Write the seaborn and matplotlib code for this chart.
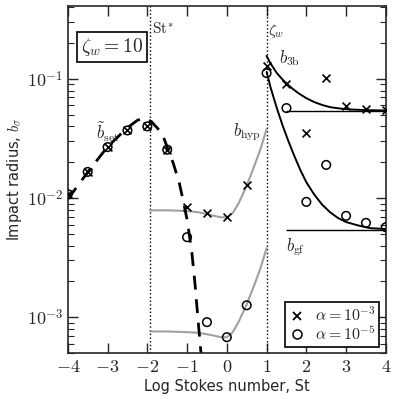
import numpy as np
import pandas as pd
import matplotlib
matplotlib.use("Agg")
import matplotlib.pyplot as plt
from matplotlib.lines import Line2D
from matplotlib.ticker import FuncFormatter
import seaborn as sns

# marker data (x = log10 St)
st_cross = [-4.0, -3.5, -3.0, -2.5, -2.0, -1.5, -1.0, -0.5, 0.0, 0.5,
            1.0, 1.5, 2.0, 2.5, 3.0, 3.5, 4.0]
b_cross = [0.0108, 0.0166, 0.0268, 0.037, 0.040, 0.0255, 0.0084, 0.0075, 0.0069, 0.0129,
           0.129, 0.091, 0.035, 0.102, 0.059, 0.0556, 0.055]
st_circle = [-4.0, -3.5, -3.0, -2.5, -2.0, -1.5, -1.0, -0.5, 0.0, 0.5,
             1.0, 1.5, 2.0, 2.5, 3.0, 3.5, 4.0]
b_circle = [0.0108, 0.0166, 0.0268, 0.037, 0.040, 0.0255, 0.0047, 0.00091, 0.00068, 0.00126,
            0.112, 0.057, 0.0093, 0.019, 0.0071, 0.0062, 0.0057]

# model curves
set_x = [-4.0, -3.5, -3.0, -2.5, -2.25, -2.1, -1.9, -1.63, -1.35, -1.2, -1.1, -1.0,
         -0.88, -0.8, -0.73, -0.65]
set_y = [0.0098, 0.0165, 0.027, 0.039, 0.045, 0.047, 0.044, 0.035, 0.0197, 0.0136, 0.0096, 0.0066,
         0.0035, 0.0019, 0.0010, 0.0005]

hyp3_x = [-1.93, -1.5, -1.0, -0.7, -0.4, -0.15, 0.0, 0.15, 0.3, 0.5, 0.7, 0.85, 1.0]
hyp3_y = [0.0079, 0.0079, 0.0078, 0.0076, 0.0072, 0.0069, 0.0069, 0.0075, 0.0091, 0.0127, 0.019, 0.026, 0.038]
hyp5_x = [-1.93, -1.5, -1.0, -0.7, -0.4, -0.15, 0.0, 0.15, 0.3, 0.5, 0.7, 0.85, 1.0]
hyp5_y = [0.00076, 0.00076, 0.00075, 0.00074, 0.00071, 0.00068, 0.00068, 0.00075, 0.00092, 0.00128, 0.0019, 0.0026, 0.0038]

b3b_x = [1.0, 1.1, 1.25, 1.4, 1.5, 1.65, 1.8, 2.0, 2.2, 2.4, 2.6, 2.9, 3.2, 3.6, 4.0]
b3b_y = [0.156, 0.135, 0.113, 0.099, 0.092, 0.083, 0.076, 0.069, 0.064, 0.0605, 0.058, 0.0562, 0.0553, 0.0547, 0.0544]
bgf_x = [1.0, 1.1, 1.25, 1.4, 1.55, 1.7, 1.85, 2.0, 2.2, 2.4, 2.6, 2.8, 3.0, 3.3, 3.6, 4.0]
bgf_y = [0.115, 0.085, 0.058, 0.041, 0.030, 0.0225, 0.0172, 0.0136, 0.0107, 0.0088, 0.0076, 0.0068, 0.0063, 0.0059, 0.0056, 0.0055]

b3b_limit = 0.054
bgf_limit = 0.0054
st_star = -1.93
zeta_w = 1.0

sns.set_style("ticks")
plt.rcParams["font.family"] = ["DejaVu Sans"]
plt.rcParams["mathtext.fontset"] = "cm"

fig = plt.figure(figsize=(3.99, 3.99), dpi=100)
ax = fig.add_axes([0.170, 0.115, 0.797, 0.870])

ax.axvline(st_star, color="k", ls=":", lw=1.0)
ax.axvline(zeta_w, color="k", ls=":", lw=1.0)

sns.lineplot(x=hyp3_x, y=hyp3_y, ax=ax, color="#a0a0a0", lw=1.5, sort=False)
sns.lineplot(x=hyp5_x, y=hyp5_y, ax=ax, color="#a0a0a0", lw=1.5, sort=False)
sns.lineplot(x=set_x, y=set_y, ax=ax, color="k", lw=2.0, sort=False)
ax.lines[-1].set_dashes((5, 3.5))
sns.lineplot(x=b3b_x, y=b3b_y, ax=ax, color="k", lw=1.4, sort=False)
sns.lineplot(x=bgf_x, y=bgf_y, ax=ax, color="k", lw=1.4, sort=False)
ax.hlines([b3b_limit, bgf_limit], 1.5, 4.0, color="k", lw=1.0)

sns.scatterplot(x=st_cross, y=b_cross, ax=ax, marker="x", color="k", s=32,
                linewidth=1.2, zorder=5)
sns.scatterplot(x=st_circle, y=b_circle, ax=ax, marker="o", facecolor="none",
                edgecolor="k", s=38, linewidth=1.1, zorder=5)

ax.set_yscale("log")
ax.set_xlim(-4, 4)
ax.set_ylim(5e-4, 0.41)
ax.set_xticks(range(-4, 5))
ax.set_yticks([1e-3, 1e-2, 1e-1])
ax.xaxis.set_major_formatter(FuncFormatter(lambda v, p: r"$%d$" % round(v)))
ax.yaxis.set_major_formatter(FuncFormatter(lambda v, p: r"$10^{%d}$" % round(np.log10(v))))
ax.tick_params(which="both", direction="in", top=True, right=True, labelsize=13)
ax.tick_params(which="major", length=7, width=1.0)
ax.tick_params(which="minor", length=4, width=0.8)
ax.tick_params(axis="x", which="minor", bottom=False, top=False)
for s in ax.spines.values():
    s.set_linewidth(1.2)

ax.set_xlabel("Log Stokes number, St", fontsize=10.5, labelpad=2)
ax.set_ylabel(r"Impact radius, $b_\sigma$", fontsize=10.5, labelpad=2)

ax.text(st_star + 0.05, 0.245, r"$\mathrm{St}^{*}$", fontsize=11)
ax.text(zeta_w + 0.04, 0.235, r"$\zeta_w$", fontsize=11)
ax.text(0.04, 0.882, r"$\zeta_w = 10$", transform=ax.transAxes, fontsize=14,
        va="center", ha="left",
        bbox=dict(boxstyle="square,pad=0.2", fc="white", ec="k", lw=1.2))
ax.text(-3.3, 0.031, r"$\tilde{b}_{\rm set}$", fontsize=12)
ax.text(0.15, 0.033, r"$b_{\rm hyp}$", fontsize=12)
ax.text(1.3, 0.135, r"$b_{\rm 3b}$", fontsize=12)
ax.text(1.5, 0.0036, r"$b_{\rm gf}$", fontsize=12)

handles = [
    Line2D([], [], ls="none", marker="x", color="k", ms=6, mew=1.3),
    Line2D([], [], ls="none", marker="o", mfc="none", mec="k", ms=6.5, mew=1.1),
]
leg = ax.legend(handles, [r"$\alpha = 10^{-3}$", r"$\alpha = 10^{-5}$"],
                loc="lower right", fontsize=11.5, fancybox=False, framealpha=1,
                edgecolor="k", handlelength=1.0, handletextpad=0.6,
                borderpad=0.25, labelspacing=0.05, borderaxespad=0.4)
leg.get_frame().set_linewidth(1.2)

plt.savefig("out.png", dpi=100)
